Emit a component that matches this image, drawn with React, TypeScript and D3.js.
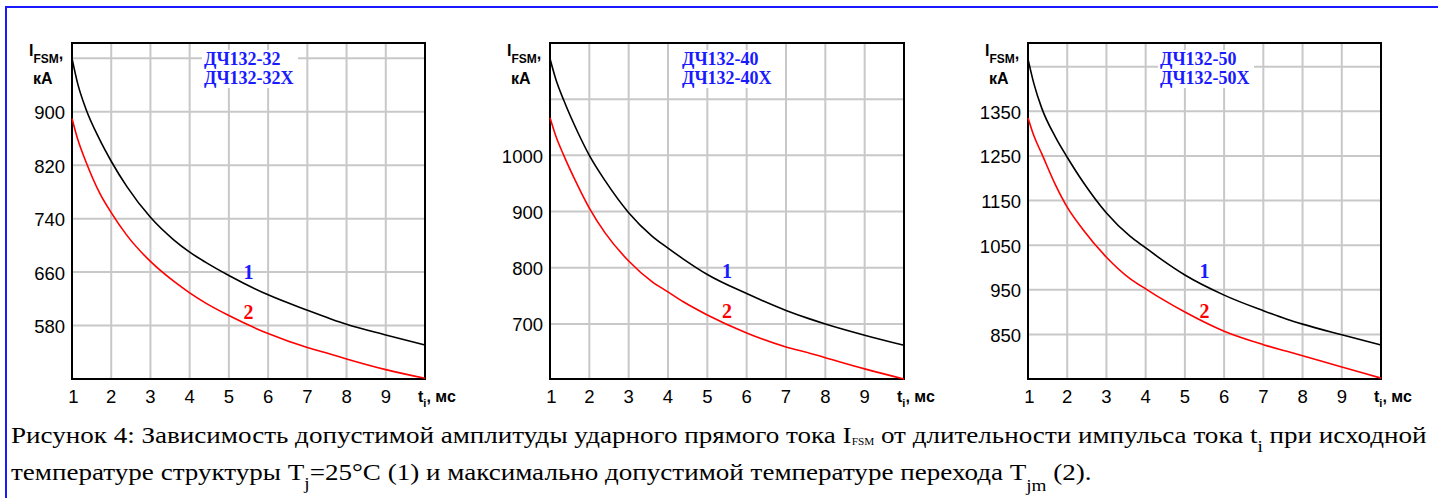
import React from "react";
import * as d3 from "d3";

// ---------- data ----------
const tValues = [1, 1.15, 1.35, 1.7, 2, 2.4, 3, 3.6, 4, 4.4, 5, 6, 7, 7.6, 8, 9, 10];
const xTicks = [1, 2, 3, 4, 5, 6, 7, 8, 9];

const p1Curve1 = [980, 941, 905, 859, 826, 788, 742, 708, 690, 675, 655, 626, 603, 590, 582, 566, 551];
const p1Curve2 = [890, 858, 826, 779, 749, 715, 676, 646, 629, 614, 595, 568, 547, 537, 530, 514, 501];
const p2Curve1 = [1172, 1135, 1098, 1042, 1000, 955, 898, 856, 835, 815, 788, 754, 724, 709, 700, 680, 662];
const p2Curve2 = [1067, 1034, 1000, 947, 906, 862, 812, 775, 757, 739, 716, 684, 659, 648, 640, 620, 602];
const p3Curve1 = [1467, 1412, 1357, 1292, 1247, 1192, 1122, 1070, 1044, 1018, 983, 938, 903, 884, 873, 849, 826];
const p3Curve2 = [1335, 1295, 1255, 1185, 1135, 1085, 1023, 975, 952, 930, 900, 857, 827, 812, 802, 777, 752];

const p1Domain = [500, 1003];
const p2Domain = [602, 1200];
const p3Domain = [750, 1503];

const p1Grid = [580, 660, 740, 820, 900, 980];
const p2Grid = [700, 800, 900, 1000, 1100];
const p3Grid = [850, 950, 1050, 1150, 1250, 1350, 1450];

const p1Ticks = [580, 660, 740, 820, 900];
const p2Ticks = [700, 800, 900, 1000];
const p3Ticks = [850, 950, 1050, 1150, 1250, 1350];

const p1Titles = ["ДЧ132-32", "ДЧ132-32Х"];
const p2Titles = ["ДЧ132-40", "ДЧ132-40Х"];
const p3Titles = ["ДЧ132-50", "ДЧ132-50Х"];

// curve label positions (t, value)
const p1Labels = [[5.5, 660], [5.5, 601]];
const p2Labels = [[5.5, 794], [5.5, 723]];
const p3Labels = [[5.5, 992], [5.5, 902]];

const panels = [
  { left: 72, right: 425, domain: p1Domain, grid: p1Grid, ticks: p1Ticks, c1: p1Curve1, c2: p1Curve2, titles: p1Titles, labels: p1Labels },
  { left: 550, right: 904, domain: p2Domain, grid: p2Grid, ticks: p2Ticks, c1: p2Curve1, c2: p2Curve2, titles: p2Titles, labels: p2Labels },
  { left: 1028, right: 1381, domain: p3Domain, grid: p3Grid, ticks: p3Ticks, c1: p3Curve1, c2: p3Curve2, titles: p3Titles, labels: p3Labels },
];

const TOP = 43;
const BOTTOM = 379;
const SANS = "'Liberation Sans', Arial, sans-serif";
const SERIF = "'Liberation Serif', 'Times New Roman', serif";
const GRID = "#c8c8c8";

function Panel({ p }: { p: any }) {
  const x = d3.scaleLinear().domain([1, 10]).range([p.left, p.right]);
  const y = d3.scaleLinear().domain(p.domain).range([BOTTOM, TOP]);
  const line = d3
    .line<number>()
    .x((_, i) => x(tValues[i]))
    .y((d) => y(d))
    .curve(d3.curveMonotoneX);
  return (
    <g>
      {xTicks.slice(1).map((t) => (
        <line key={"gx" + t} x1={x(t)} x2={x(t)} y1={TOP} y2={BOTTOM} stroke={GRID} strokeWidth={2} />
      ))}
      {p.grid.map((v: number) => (
        <line key={"gy" + v} x1={p.left} x2={p.right + 1} y1={y(v)} y2={y(v)} stroke={GRID} strokeWidth={2} />
      ))}
      <rect x={p.left + 130} y={50} width={96} height={38} fill="#fff" />
      <text x={p.left + 132} y={65} fill="#1a1aff" fontFamily={SERIF} fontWeight="bold" fontSize={18}>
        {p.titles[0]}
      </text>
      <text x={p.left + 132} y={84} fill="#1a1aff" fontFamily={SERIF} fontWeight="bold" fontSize={18}>
        {p.titles[1]}
      </text>
      <rect x={p.left} y={TOP} width={p.right - p.left} height={BOTTOM - TOP} fill="none" stroke="#000" strokeWidth={2} />
      <path d={line(p.c1) || ""} fill="none" stroke="#000" strokeWidth={1.6} />
      <path d={line(p.c2) || ""} fill="none" stroke="#ff0000" strokeWidth={1.6} />
      <text x={x(p.labels[0][0])} y={y(p.labels[0][1])} dy="0.35em" textAnchor="middle" fill="#1a1aff" fontFamily={SERIF} fontWeight="bold" fontSize={20}>1</text>
      <text x={x(p.labels[1][0])} y={y(p.labels[1][1])} dy="0.35em" textAnchor="middle" fill="#ff0000" fontFamily={SERIF} fontWeight="bold" fontSize={20}>2</text>
      {p.ticks.map((v: number) => (
        <text key={"ty" + v} x={p.left - 7} y={y(v) + 7.5} textAnchor="end" fontFamily={SANS} fontSize={18.5} fill="#000">
          {v}
        </text>
      ))}
      {xTicks.map((t) => (
        <text key={"tx" + t} x={x(t) + (t === 1 ? 1.5 : 0)} y={403} textAnchor="middle" fontFamily={SANS} fontSize={18.5} fill="#000">
          {t}
        </text>
      ))}
      <text x={p.left - 43} y={56} fontFamily={SANS} fontWeight="bold" fontSize={16} fill="#000">
        I<tspan fontSize={12} dy={6.5}>FSM</tspan><tspan fontSize={16} dy={-4}>,</tspan>
      </text>
      <text x={p.left - 39} y={83.5} fontFamily={SANS} fontWeight="bold" fontSize={16} fill="#000">кА</text>
      <text x={p.right - 7} y={402} fontFamily={SANS} fontWeight="bold" fontSize={16} fill="#000">
        t<tspan fontSize={11} dy={5}>i</tspan><tspan dy={-5}>, мс</tspan>
      </text>
    </g>
  );
}

export default function App() {
  return (
    <svg
      width={1438}
      height={498}
      style={{ position: "absolute", left: 0, top: 0, background: "#fff" }}
    >
      <rect x={0} y={0} width={1438} height={498} fill="#fff" />
      <line x1={5} x2={1438} y1={7} y2={7} stroke="#1a1aff" strokeWidth={2} />
      <line x1={6} x2={6} y1={6} y2={498} stroke="#1a1aff" strokeWidth={2} />
      {panels.map((p, i) => (
        <Panel key={i} p={p} />
      ))}
      <g transform="translate(11,0) scale(1.128,1)">
        <text x={0} y={443.3} fontFamily={SERIF} fontSize={24} fill="#000">
          Рисунок 4: Зависимость допустимой амплитуды ударного прямого тока I
          <tspan fontSize={10} dy={2}>FSM</tspan>
          <tspan dy={-2}> от длительности импульса тока t</tspan>
          <tspan fontSize={17} dy={9}>i</tspan>
          <tspan dy={-9}> при исходной</tspan>
        </text>
        <text x={0} y={480} fontFamily={SERIF} fontSize={24} fill="#000">
          температуре структуры T<tspan fontSize={17} dy={9}>j</tspan>
          <tspan dy={-9}>=25°C (1) и максимально допустимой температуре перехода T</tspan>
          <tspan fontSize={17} dy={11}>jm</tspan>
          <tspan dy={-11}> (2).</tspan>
        </text>
      </g>
    </svg>
  );
}
